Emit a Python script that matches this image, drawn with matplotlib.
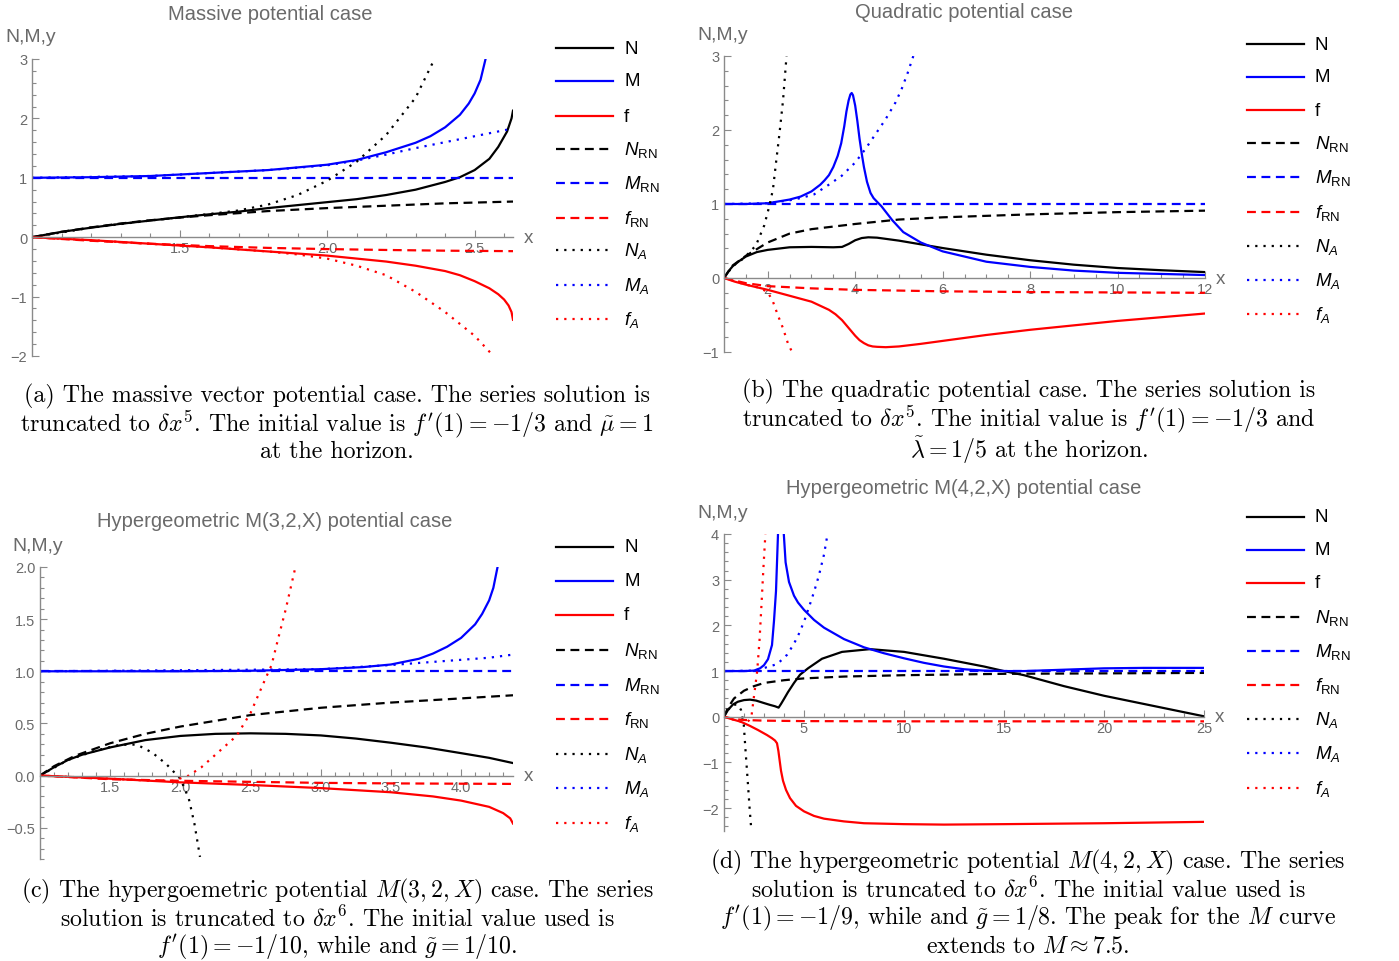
import matplotlib.pyplot as plt
from matplotlib.lines import Line2D
from matplotlib.ticker import MultipleLocator

W, H = 1399, 962

# ---------------- panel (a): massive potential ----------------
a_N_x = [1.0, 1.05, 1.1, 1.2, 1.3, 1.4, 1.5, 1.6, 1.7, 1.8, 1.9, 2.0, 2.1, 2.2, 2.3, 2.4, 2.45, 2.5, 2.55, 2.58, 2.61, 2.625, 2.63]
a_N_y = [0.0, 0.045, 0.09, 0.16, 0.225, 0.28, 0.335, 0.385, 0.43, 0.49, 0.54, 0.59, 0.64, 0.71, 0.8, 0.93, 1.01, 1.13, 1.32, 1.52, 1.78, 2.0, 2.13]
a_M_x = [1.0, 1.2, 1.4, 1.6, 1.8, 2.0, 2.1, 2.2, 2.3, 2.35, 2.4, 2.45, 2.48, 2.5, 2.52, 2.537]
a_M_y = [1.0, 1.01, 1.03, 1.08, 1.13, 1.22, 1.3, 1.43, 1.59, 1.7, 1.85, 2.06, 2.25, 2.42, 2.65, 3.0]
a_f_x = [1.0, 1.2, 1.4, 1.6, 1.8, 2.0, 2.2, 2.3, 2.4, 2.45, 2.5, 2.55, 2.58, 2.6, 2.615, 2.625, 2.63]
a_f_y = [0.0, -0.05, -0.11, -0.17, -0.24, -0.31, -0.41, -0.48, -0.57, -0.64, -0.74, -0.86, -0.96, -1.05, -1.15, -1.26, -1.39]
a_NRN_x = [1.0, 1.1, 1.2, 1.3, 1.4, 1.5, 1.6, 1.8, 2.0, 2.2, 2.4, 2.63]
a_NRN_y = [0.0, 0.09, 0.165, 0.23, 0.285, 0.33, 0.37, 0.44, 0.49, 0.53, 0.57, 0.6]
a_MRN_x = [1.0, 2.63]
a_MRN_y = [1.0, 1.0]
a_fRN_x = [1.0, 1.2, 1.4, 1.6, 1.8, 2.0, 2.2, 2.4, 2.63]
a_fRN_y = [0.0, -0.06, -0.11, -0.15, -0.18, -0.2, -0.215, -0.227, -0.235]
a_NA_x = [1.0, 1.2, 1.4, 1.6, 1.7, 1.8, 1.9, 2.0, 2.1, 2.2, 2.3, 2.364]
a_NA_y = [0.0, 0.16, 0.28, 0.39, 0.45, 0.55, 0.71, 0.95, 1.27, 1.72, 2.35, 3.0]
a_MA_x = [1.0, 1.4, 1.8, 2.0, 2.1, 2.2, 2.3, 2.4, 2.5, 2.61]
a_MA_y = [1.0, 1.03, 1.13, 1.21, 1.29, 1.39, 1.5, 1.6, 1.7, 1.81]
a_fA_x = [1.0, 1.2, 1.4, 1.6, 1.8, 1.9, 2.0, 2.1, 2.2, 2.3, 2.4, 2.5, 2.56]
a_fA_y = [0.0, -0.05, -0.11, -0.17, -0.24, -0.29, -0.36, -0.48, -0.64, -0.92, -1.26, -1.66, -1.98]

# ---------------- panel (b): quadratic potential ----------------
b_N_x = [1.0, 1.1, 1.2, 1.35, 1.5, 1.75, 2.0, 2.5, 3.0, 3.5, 3.7, 3.85, 4.0, 4.15, 4.3, 4.5, 4.75, 5.0, 5.5, 6.0, 7.0, 8.0, 9.0, 10.0, 11.0, 12.0]
b_N_y = [0.0, 0.09, 0.16, 0.23, 0.29, 0.35, 0.38, 0.415, 0.42, 0.415, 0.42, 0.46, 0.51, 0.54, 0.55, 0.545, 0.525, 0.505, 0.455, 0.405, 0.315, 0.24, 0.18, 0.135, 0.105, 0.08]
b_M_x = [1.0, 1.5, 2.0, 2.5, 2.75, 3.0, 3.2, 3.3, 3.4, 3.5, 3.6, 3.68, 3.75, 3.8, 3.85, 3.89, 3.92, 3.95, 4.0, 4.05, 4.1, 4.15, 4.2, 4.27, 4.35, 4.42, 4.5, 4.6, 4.85, 5.1, 5.5, 6.0, 7.0, 8.0, 9.0, 10.0, 11.0, 12.0]
b_M_y = [1.0, 1.0, 1.01, 1.06, 1.1, 1.17, 1.26, 1.32, 1.39, 1.5, 1.65, 1.82, 2.05, 2.25, 2.4, 2.48, 2.5, 2.47, 2.33, 2.12, 1.88, 1.68, 1.5, 1.3, 1.15, 1.08, 1.03, 0.97, 0.78, 0.62, 0.48, 0.36, 0.22, 0.15, 0.1, 0.07, 0.055, 0.04]
b_f_x = [1.0, 1.25, 1.5, 2.0, 2.5, 3.0, 3.4, 3.55, 3.7, 3.8, 3.9, 4.0, 4.1, 4.2, 4.3, 4.4, 4.5, 4.7, 5.0, 5.5, 6.0, 7.0, 8.0, 9.0, 10.0, 11.0, 12.0]
b_f_y = [0.0, -0.05, -0.09, -0.16, -0.24, -0.32, -0.43, -0.49, -0.57, -0.64, -0.71, -0.78, -0.84, -0.88, -0.91, -0.925, -0.93, -0.935, -0.925, -0.89, -0.85, -0.77, -0.7, -0.64, -0.58, -0.53, -0.48]
b_NRN_x = [1.0, 1.2, 1.5, 2.0, 2.5, 3.0, 4.0, 5.0, 6.0, 8.0, 10.0, 12.0]
b_NRN_y = [0.0, 0.17, 0.3, 0.48, 0.6, 0.66, 0.73, 0.79, 0.82, 0.86, 0.89, 0.91]
b_MRN_x = [1.0, 12.0]
b_MRN_y = [1.0, 1.0]
b_fRN_x = [1.0, 1.5, 2.0, 3.0, 4.0, 6.0, 8.0, 10.0, 12.0]
b_fRN_y = [0.0, -0.07, -0.11, -0.14, -0.16, -0.18, -0.19, -0.195, -0.2]
b_NA_x = [1.0, 1.2, 1.46, 1.73, 1.92, 2.04, 2.12, 2.19, 2.27, 2.35, 2.43]
b_NA_y = [0.0, 0.16, 0.27, 0.44, 0.71, 0.98, 1.2, 1.56, 1.96, 2.4, 3.0]
b_MA_x = [1.0, 2.0, 2.5, 2.75, 3.06, 3.37, 3.69, 4.0, 4.23, 4.46, 4.69, 4.92, 5.06, 5.2, 5.33]
b_MA_y = [1.0, 1.01, 1.05, 1.08, 1.13, 1.25, 1.38, 1.56, 1.74, 1.94, 2.14, 2.37, 2.55, 2.77, 3.0]
b_fA_x = [1.0, 1.5, 1.8, 2.0, 2.12, 2.23, 2.35, 2.46, 2.54]
b_fA_y = [0.0, -0.09, -0.13, -0.19, -0.32, -0.5, -0.68, -0.88, -0.98]

# ---------------- panel (c): hypergeometric M(3,2,X) ----------------
c_N_x = [1.0, 1.1, 1.2, 1.3, 1.5, 1.75, 2.0, 2.25, 2.5, 2.75, 3.0, 3.25, 3.5, 3.75, 4.0, 4.2, 4.37]
c_N_y = [0.0, 0.08, 0.15, 0.2, 0.27, 0.34, 0.38, 0.4, 0.405, 0.4, 0.385, 0.355, 0.315, 0.27, 0.215, 0.17, 0.12]
c_M_x = [1.0, 2.0, 2.5, 3.0, 3.3, 3.5, 3.7, 3.8, 3.9, 4.0, 4.1, 4.15, 4.2, 4.23, 4.26]
c_M_y = [1.0, 1.0, 1.005, 1.02, 1.04, 1.065, 1.12, 1.17, 1.235, 1.32, 1.45, 1.55, 1.68, 1.8, 2.0]
c_f_x = [1.0, 1.25, 1.5, 2.0, 2.5, 3.0, 3.5, 3.8, 4.0, 4.2, 4.3, 4.35, 4.37]
c_f_y = [0.0, -0.015, -0.03, -0.065, -0.09, -0.12, -0.16, -0.2, -0.24, -0.3, -0.36, -0.41, -0.46]
c_NRN_x = [1.0, 1.1, 1.25, 1.5, 1.75, 2.0, 2.5, 3.0, 3.5, 4.0, 4.37]
c_NRN_y = [0.0, 0.09, 0.19, 0.31, 0.4, 0.47, 0.58, 0.65, 0.7, 0.74, 0.77]
c_MRN_x = [1.0, 4.37]
c_MRN_y = [1.0, 1.0]
c_fRN_x = [1.0, 1.5, 2.0, 2.5, 3.0, 3.5, 4.0, 4.37]
c_fRN_y = [0.0, -0.035, -0.05, -0.06, -0.07, -0.075, -0.078, -0.08]
c_NA_x = [1.0, 1.2, 1.4, 1.55, 1.65, 1.7, 1.8, 1.9, 2.0, 2.06, 2.1, 2.14]
c_NA_y = [0.0, 0.15, 0.24, 0.29, 0.3, 0.29, 0.22, 0.11, -0.03, -0.22, -0.46, -0.78]
c_MA_x = [1.0, 3.0, 3.5, 3.8, 4.0, 4.2, 4.37]
c_MA_y = [1.0, 1.02, 1.06, 1.09, 1.11, 1.13, 1.16]
c_fA_x = [1.0, 1.5, 1.8, 1.95, 2.06, 2.15, 2.3, 2.4, 2.5, 2.6, 2.65, 2.7, 2.75, 2.82]
c_fA_y = [0.0, -0.03, -0.05, -0.05, 0.0, 0.08, 0.26, 0.38, 0.6, 0.91, 1.06, 1.33, 1.59, 2.0]

# ---------------- panel (d): hypergeometric M(4,2,X) ----------------
d_N_x = [1.0, 1.2, 1.45, 1.7, 2.0, 2.3, 2.6, 3.0, 3.3, 3.55, 3.73, 3.85, 4.0, 4.2, 4.5, 4.8, 5.2, 5.9, 6.9, 8.3, 10.0, 12.0, 14.0, 15.0, 16.0, 18.0, 20.0, 22.0, 24.0, 25.0]
d_N_y = [0.0, 0.15, 0.27, 0.33, 0.365, 0.375, 0.355, 0.3, 0.26, 0.23, 0.2, 0.28, 0.39, 0.54, 0.74, 0.92, 1.06, 1.27, 1.42, 1.48, 1.42, 1.27, 1.1, 1.0, 0.91, 0.67, 0.46, 0.28, 0.1, 0.01]
d_M_x = [1.0, 2.0, 2.5, 2.8, 3.0, 3.2, 3.4, 3.5, 3.6, 3.7, 3.85, 3.93, 3.99, 4.08, 4.25, 4.5, 4.7, 5.0, 5.5, 6.0, 7.0, 8.0, 9.0, 10.0, 11.0, 12.0, 13.0, 14.0, 15.0, 16.0, 18.0, 20.0, 22.0, 25.0]
d_M_y = [1.0, 1.0, 1.01, 1.06, 1.13, 1.26, 1.57, 2.1, 2.75, 4.0, 7.5, 5.5, 4.0, 3.38, 2.95, 2.65, 2.5, 2.34, 2.12, 1.95, 1.7, 1.52, 1.39, 1.28, 1.18, 1.1, 1.04, 1.01, 1.0, 1.0, 1.03, 1.06, 1.07, 1.07]
d_f_x = [1.0, 1.45, 1.85, 2.3, 2.7, 3.15, 3.4, 3.55, 3.65, 3.72, 3.78, 3.85, 3.95, 4.1, 4.3, 4.6, 5.0, 5.5, 6.0, 7.0, 8.0, 10.0, 12.0, 15.0, 20.0, 25.0]
d_f_y = [0.0, -0.06, -0.11, -0.2, -0.29, -0.4, -0.47, -0.52, -0.58, -0.75, -0.95, -1.18, -1.4, -1.6, -1.78, -1.95, -2.07, -2.17, -2.23, -2.29, -2.33, -2.35, -2.36, -2.35, -2.33, -2.3]
d_NRN_x = [1.0, 1.2, 1.5, 2.0, 2.5, 3.0, 4.0, 5.0, 7.0, 10.0, 15.0, 20.0, 25.0]
d_NRN_y = [0.0, 0.2, 0.4, 0.57, 0.67, 0.74, 0.8, 0.84, 0.88, 0.91, 0.94, 0.95, 0.96]
d_MRN_x = [1.0, 25.0]
d_MRN_y = [1.0, 1.0]
d_fRN_x = [1.0, 1.5, 2.0, 3.0, 5.0, 10.0, 25.0]
d_fRN_y = [0.0, -0.05, -0.07, -0.085, -0.095, -0.1, -0.1]
d_NA_x = [1.0, 1.2, 1.45, 1.7, 1.85, 1.99, 2.08, 2.2, 2.28, 2.37]
d_NA_y = [0.0, 0.15, 0.27, 0.26, 0.15, -0.18, -0.76, -1.49, -2.0, -2.5]
d_MA_x = [1.0, 2.5, 2.8, 3.1, 3.4, 3.65, 3.9, 4.16, 4.5, 4.75, 5.0, 5.25, 5.5, 5.75, 6.0, 6.15]
d_MA_y = [1.0, 1.01, 1.04, 1.08, 1.12, 1.15, 1.25, 1.36, 1.6, 1.82, 2.08, 2.4, 2.73, 3.1, 3.55, 3.93]
d_fA_x = [1.0, 1.45, 1.85, 2.1, 2.25, 2.37, 2.5, 2.66, 2.78, 2.88, 2.97, 3.07]
d_fA_y = [0.0, -0.06, -0.11, -0.12, -0.08, 0.0, 0.45, 1.0, 1.7, 2.5, 3.25, 4.0]

# text
titles = ["Massive potential case", "Quadratic potential case",
          "Hypergeometric M(3,2,X) potential case", "Hypergeometric M(4,2,X) potential case"]
legend_labels = ["N", "M", "f", r"$N_{\mathrm{RN}}$", r"$M_{\mathrm{RN}}$", r"$f_{\mathrm{RN}}$",
                 r"$N_A$", r"$M_A$", r"$f_A$"]
captions = [
    ["(a) The massive vector potential case. The series solution is",
     r"truncated to $\delta x^5$. The initial value is $f'(1) = -1/3$ and $\tilde{\mu} = 1$",
     "at the horizon."],
    ["(b) The quadratic potential case. The series solution is",
     r"truncated to $\delta x^5$. The initial value is $f'(1) = -1/3$ and",
     r"$\tilde{\lambda} = 1/5$ at the horizon."],
    [r"(c) The hypergoemetric potential $M(3,2,X)$ case. The series",
     r"solution is truncated to $\delta x^6$. The initial value used is",
     r"$f'(1) = -1/10$, while and $\tilde{g} = 1/10$."],
    [r"(d) The hypergeometric potential $M(4,2,X)$ case. The series",
     r"solution is truncated to $\delta x^6$. The initial value used is",
     r"$f'(1) = -1/9$, while and $\tilde{g} = 1/8$. The peak for the $M$ curve",
     r"extends to $M \approx 7.5$."],
]

plt.rcParams['font.family'] = ['Liberation Sans', 'DejaVu Sans']
plt.rcParams['mathtext.fontset'] = 'custom'
plt.rcParams['mathtext.rm'] = 'Liberation Sans'
plt.rcParams['mathtext.it'] = 'Liberation Sans:italic'
plt.rcParams['mathtext.bf'] = 'Liberation Sans:bold'

# line styles in legend order
styles = [
    dict(color='black'), dict(color='#0000ff'), dict(color='#ff0000'),
    dict(color='black', dashes=(4, 2.5)), dict(color='#0000ff', dashes=(4, 2.5)), dict(color='#ff0000', dashes=(4, 2.5)),
    dict(color='black', dashes=(1, 2.7)), dict(color='#0000ff', dashes=(1, 2.7)), dict(color='#ff0000', dashes=(1, 2.7)),
]

GRAY = '#8a8a8a'
TXT = '#6a6a6a'

fig = plt.figure(figsize=(W / 100, H / 100), dpi=100)


def fx(px):
    return px / W


def fy(py):
    return 1 - py / H


def panel(box, xlim, ylim, xmaj, xmin, ymaj, ymin, xlab, ylab, curves, title, title_pos, nmy_pos, leg_x, leg_rows, cap_x, cap_rows, cap):
    left, right, top, bottom = box
    ax = fig.add_axes([fx(left), fy(bottom), (right - left) / W, (bottom - top) / H])
    for (xs, ys), st in zip(curves, styles):
        ax.plot(xs, ys, lw=1.6, **st)
    ax.set_xlim(*xlim)
    ax.set_ylim(*ylim)
    ax.patch.set_alpha(0)
    for s in ['top', 'right']:
        ax.spines[s].set_visible(False)
    ax.spines['bottom'].set_position(('data', 0))
    for s in ['left', 'bottom']:
        ax.spines[s].set_color(GRAY)
        ax.spines[s].set_linewidth(1.0)
    ax.set_xticks(xmaj)
    ax.set_xticklabels(xlab)
    ax.set_yticks(ymaj)
    ax.set_yticklabels(ylab)
    ax.xaxis.set_minor_locator(MultipleLocator(xmin))
    ax.yaxis.set_minor_locator(MultipleLocator(ymin))
    ax.tick_params(which='both', direction='in', color=GRAY, labelcolor=TXT, labelsize=10.5, width=0.8)
    ax.tick_params(which='major', length=5)
    ax.tick_params(which='minor', length=3)
    ax.tick_params(axis='x', pad=3)
    ax.annotate('x', xy=(1, 0), xycoords=('axes fraction', 'data'), xytext=(8, 0),
                textcoords='offset points', va='center', ha='left', color=TXT, fontsize=13.5)
    fig.text(fx(title_pos[0]), fy(title_pos[1]), title, ha='center', va='center', color=TXT, fontsize=14.5)
    fig.text(fx(nmy_pos[0]), fy(nmy_pos[1]), 'N,M,y', ha='left', va='center', color=TXT, fontsize=14)
    # legend drawn row by row
    for row_y, st, lab in zip(leg_rows, styles, legend_labels):
        fig.add_artist(Line2D([fx(leg_x), fx(leg_x + 57)], [fy(row_y), fy(row_y)], lw=1.6, **st))
        fig.text(fx(leg_x + 68), fy(row_y), lab, ha='left', va='center', fontsize=13.5, color='black')
    for line, row_y in zip(cap, cap_rows):
        fig.text(fx(cap_x), fy(row_y), line, ha='center', va='center', family='cmr10',
                 math_fontfamily='cm', fontsize=17.2)
    return ax


panel((32, 513, 60, 357), (1, 2.63), (-2, 3), [1.5, 2.0, 2.5], 0.1, [-2, -1, 0, 1, 2, 3], 0.2,
      ['1.5', '2.0', '2.5'], ['\u22122', '\u22121', '0', '1', '2', '3'],
      [(a_N_x, a_N_y), (a_M_x, a_M_y), (a_f_x, a_f_y), (a_NRN_x, a_NRN_y), (a_MRN_x, a_MRN_y),
       (a_fRN_x, a_fRN_y), (a_NA_x, a_NA_y), (a_MA_x, a_MA_y), (a_fA_x, a_fA_y)],
      titles[0], (270, 15), (5, 38), 556, [49, 82, 117, 150, 184, 219, 251, 286, 320],
      337, [396, 424, 452], captions[0])

panel((724, 1205, 57, 353), (1, 12), (-1, 3), [2, 4, 6, 8, 10, 12], 0.5, [-1, 0, 1, 2, 3], 0.2,
      ['2', '4', '6', '8', '10', '12'], ['\u22121', '0', '1', '2', '3'],
      [(b_N_x, b_N_y), (b_M_x, b_M_y), (b_f_x, b_f_y), (b_NRN_x, b_NRN_y), (b_MRN_x, b_MRN_y),
       (b_fRN_x, b_fRN_y), (b_NA_x, b_NA_y), (b_MA_x, b_MA_y), (b_fA_x, b_fA_y)],
      titles[1], (964, 12), (697, 36), 1247, [45, 78, 111, 144, 178, 213, 247, 281, 315],
      1029, [391, 419, 450], captions[1])

panel((40, 513, 568, 860), (1, 4.37), (-0.8, 2.0), [1.5, 2.0, 2.5, 3.0, 3.5, 4.0], 0.1,
      [-0.5, 0.0, 0.5, 1.0, 1.5, 2.0], 0.1,
      ['1.5', '2.0', '2.5', '3.0', '3.5', '4.0'], ['\u22120.5', '0.0', '0.5', '1.0', '1.5', '2.0'],
      [(c_N_x, c_N_y), (c_M_x, c_M_y), (c_f_x, c_f_y), (c_NRN_x, c_NRN_y), (c_MRN_x, c_MRN_y),
       (c_fRN_x, c_fRN_y), (c_NA_x, c_NA_y), (c_MA_x, c_MA_y), (c_fA_x, c_fA_y)],
      titles[2], (275, 522), (12, 547), 556, [548, 582, 616, 651, 686, 720, 755, 789, 824],
      337, [891, 919, 947], captions[2])

panel((724, 1204, 535, 832), (1, 25), (-2.5, 4), [5, 10, 15, 20, 25], 1, [-2, -1, 0, 1, 2, 3, 4], 0.2,
      ['5', '10', '15', '20', '25'], ['\u22122', '\u22121', '0', '1', '2', '3', '4'],
      [(d_N_x, d_N_y), (d_M_x, d_M_y), (d_f_x, d_f_y), (d_NRN_x, d_NRN_y), (d_MRN_x, d_MRN_y),
       (d_fRN_x, d_fRN_y), (d_NA_x, d_NA_y), (d_MA_x, d_MA_y), (d_fA_x, d_fA_y)],
      titles[3], (964, 489), (697, 513), 1247, [518, 551, 584, 618, 652, 686, 720, 754, 789],
      1028, [862, 890, 918, 946], captions[3])

fig.savefig('out.png', dpi=100)
